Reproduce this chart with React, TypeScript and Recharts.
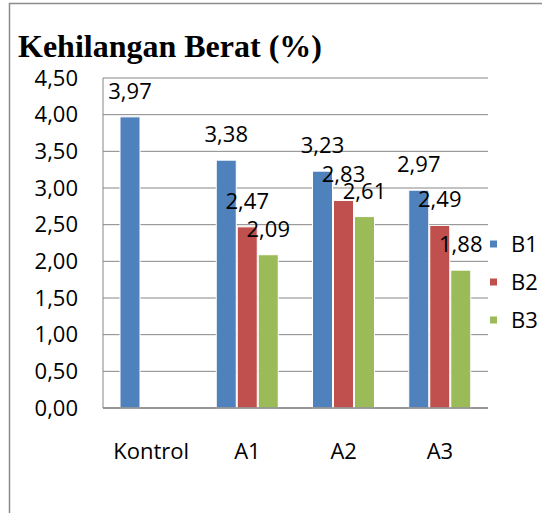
import React from 'react';
import { BarChart, Bar, XAxis, YAxis, CartesianGrid, Legend, LabelList } from 'recharts';

const categories = ['Kontrol', 'A1', 'A2', 'A3'];
const seriesB1 = [3.97, 3.38, 3.23, 2.97];
const seriesB2: (number | null)[] = [null, 2.47, 2.83, 2.49];
const seriesB3: (number | null)[] = [null, 2.09, 2.61, 1.88];
const yTicks = [0, 0.5, 1, 1.5, 2, 2.5, 3, 3.5, 4, 4.5];
const seriesNames = ['B1', 'B2', 'B3'];
const seriesColors = ['#4F81BD', '#C0504D', '#9BBB59'];
const titleText = 'Kehilangan Berat (%)';

const data = categories.map((c, i) => ({
  name: c,
  B1: seriesB1[i],
  B2: seriesB2[i],
  B3: seriesB3[i],
}));

const FONT = '"Open Sans", sans-serif';
const FS = 22;

const fmt = (v: any) =>
  v === null || v === undefined || v === '' ? '' : Number(v).toFixed(2).replace('.', ',');

const LegendContent = () => (
  <svg width={54} height={120} style={{ display: 'block' }}>
    {seriesNames.map((n, i) => {
      const cy = 19 + i * 38;
      return (
        <g key={n}>
          <rect x={2} y={cy - 3.5} width={7} height={7} fill={seriesColors[i]} />
          <text x={23} y={cy + 7.5} fontFamily={FONT} fontSize={FS} fill="#000">
            {n}
          </text>
        </g>
      );
    })}
  </svg>
);

export default function App() {
  return (
    <div
      style={{
        position: 'absolute',
        left: 0,
        top: 0,
        width: 542,
        height: 513,
        background: '#fff',
        overflow: 'hidden',
      }}
    >
      <BarChart
        width={542}
        height={513}
        data={data}
        margin={{ top: 78, right: 0, bottom: 65, left: 0 }}
        barSize={20}
        barGap={1}
      >
        <CartesianGrid vertical={false} stroke="#868686" strokeWidth={1} />
        <YAxis
          width={103}
          domain={[0, 4.5]}
          ticks={yTicks}
          interval={0}
          tickFormatter={fmt}
          tickLine={false}
          tickSize={0}
          tickMargin={25}
          axisLine={{ stroke: '#868686', strokeWidth: 1 }}
          tick={{ fill: '#000', fontFamily: FONT, fontSize: FS }}
        />
        <XAxis
          dataKey="name"
          height={40}
          tickLine={false}
          tickSize={0}
          tickMargin={35}
          axisLine={{ stroke: '#868686', strokeWidth: 1.5 }}
          tick={{ fill: '#000', fontFamily: FONT, fontSize: FS }}
        />
        <Legend
          layout="vertical"
          align="right"
          verticalAlign="middle"
          content={<LegendContent />}
          wrapperStyle={{ left: 488, top: 225, width: 54, height: 120 }}
        />
        {seriesNames.map((n, i) => (
          <Bar
            key={n}
            dataKey={n}
            fill={seriesColors[i]}
            stroke="#ffffff"
            strokeWidth={1}
            isAnimationActive={false}
          >
            <LabelList
              dataKey={n}
              position="top"
              offset={18}
              formatter={fmt}
              style={{ fill: '#000', fontFamily: FONT, fontSize: FS }}
            />
          </Bar>
        ))}
      </BarChart>
      <svg
        width={542}
        height={513}
        style={{ position: 'absolute', left: 0, top: 0, pointerEvents: 'none' }}
      >
        <line x1={9.5} y1={3} x2={9.5} y2={513} stroke="#8c8c8c" strokeWidth={1.5} />
        <line x1={9} y1={3.5} x2={542} y2={3.5} stroke="#8c8c8c" strokeWidth={1.5} />
        <text
          x={18}
          y={57}
          fontFamily='"Liberation Serif", "Times New Roman", serif'
          fontWeight="bold"
          fontSize={32}
          fill="#000"
        >
          {titleText}
        </text>
      </svg>
    </div>
  );
}
